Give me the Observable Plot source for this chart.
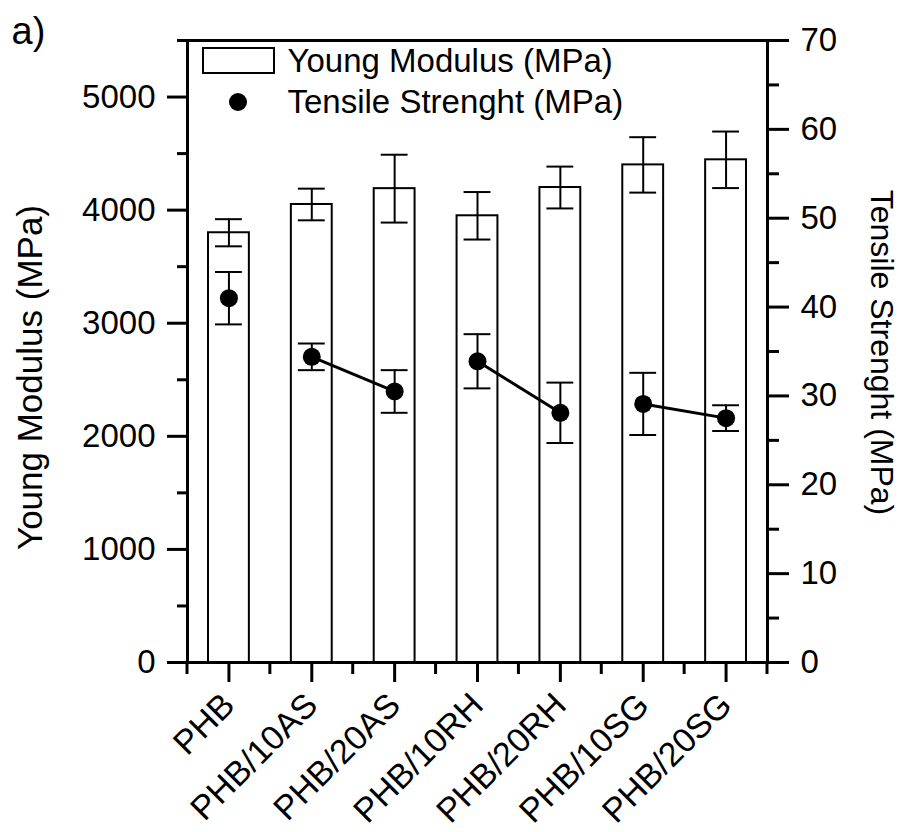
<!DOCTYPE html>
<html>
<head>
<meta charset="utf-8">
<script src="https://cdn.jsdelivr.net/npm/d3@7"></script>
<script src="https://cdn.jsdelivr.net/npm/@observablehq/plot@0.6"></script>
<style>
  html, body { margin: 0; padding: 0; background: white; }
</style>
</head>
<body>
<div id="chart"></div>
<script>
const categories = ["PHB", "PHB/10AS", "PHB/20AS", "PHB/10RH", "PHB/20RH", "PHB/10SG", "PHB/20SG"];
const youngModulus = [3800, 4050, 4190, 3950, 4200, 4400, 4445];
const youngErr = [120, 140, 300, 210, 185, 245, 250];
const tensile = [41.0, 34.4, 30.5, 33.9, 28.1, 29.1, 27.5];
const tensileErr = [2.95, 1.5, 2.4, 3.05, 3.4, 3.5, 1.45];
const groups = ["PHB", "AS", "AS", "RH", "RH", "SG", "SG"];

const leftTicks = [0, 1000, 2000, 3000, 4000, 5000];
const leftMinor = [500, 1500, 2500, 3500, 4500, 5500];
const rightTicks = [0, 10, 20, 30, 40, 50, 60, 70];
const rightMinor = [5, 15, 25, 35, 45, 55, 65];

const leftTitle = "Young Modulus (MPa)";
const rightTitle = "Tensile Strenght (MPa)";
const panelLabel = "a)";
const legendLabels = ["Young Modulus (MPa)", "Tensile Strenght (MPa)"];

const leftMax = 5500, rightMax = 70;
const k = leftMax / rightMax;

const rows = categories.map((c, i) => ({
  cat: c, ym: youngModulus[i], ye: youngErr[i],
  ts: tensile[i] * k, te: tensileErr[i] * k, grp: groups[i]
}));

const FONT = "Liberation Sans, Arial, Helvetica, sans-serif";
const FS = 33;
const LW = 3;

function minorXTicks(index, scales, values, dims) {
  const g = d3.create("svg:g").attr("stroke", "black").attr("stroke-width", LW);
  const bw = scales.x.bandwidth();
  const edges = categories.map(c => scales.x(c)).concat([scales.x(categories[categories.length - 1]) + bw]);
  const y0 = dims.height - dims.marginBottom;
  for (const e of edges) g.append("line").attr("x1", e).attr("x2", e).attr("y1", y0).attr("y2", y0 + 12);
  return g.node();
}

function legendSwatches(index, scales, values, dims) {
  const g = d3.create("svg:g");
  const x0 = dims.marginLeft, y0 = dims.marginTop;
  g.append("rect").attr("x", x0 + 16).attr("y", y0 + 8).attr("width", 71).attr("height", 25)
    .attr("fill", "white").attr("stroke", "black").attr("stroke-width", 2);
  g.append("circle").attr("cx", x0 + 51).attr("cy", y0 + 62).attr("r", 9).attr("fill", "black");
  return g.node();
}

const chart = Plot.plot({
  width: 904,
  height: 832,
  marginLeft: 187,
  marginRight: 137,
  marginTop: 40,
  marginBottom: 170,
  style: { fontFamily: FONT, fontSize: FS + "px", color: "black", background: "white", overflow: "visible" },
  x: { type: "band", domain: categories, paddingInner: 0, paddingOuter: 0, round: false, axis: null },
  y: { domain: [0, leftMax], axis: null },
  marks: [
    Plot.barY(rows, { x: "cat", y: "ym", fill: "white", stroke: "black", strokeWidth: 2, insetLeft: 21, insetRight: 21 }),
    Plot.ruleX(rows, { x: "cat", y1: d => d.ym - d.ye, y2: d => d.ym + d.ye, stroke: "black", strokeWidth: 2 }),
    Plot.tickY(rows, { x: "cat", y: d => d.ym + d.ye, stroke: "black", strokeWidth: 2, insetLeft: 28, insetRight: 28 }),
    Plot.tickY(rows, { x: "cat", y: d => d.ym - d.ye, stroke: "black", strokeWidth: 2, insetLeft: 28, insetRight: 28 }),
    Plot.line(rows, { x: "cat", y: "ts", z: "grp", stroke: "black", strokeWidth: 3 }),
    Plot.ruleX(rows, { x: "cat", y1: d => d.ts - d.te, y2: d => d.ts + d.te, stroke: "black", strokeWidth: 2 }),
    Plot.tickY(rows, { x: "cat", y: d => d.ts + d.te, stroke: "black", strokeWidth: 2, insetLeft: 28, insetRight: 28 }),
    Plot.tickY(rows, { x: "cat", y: d => d.ts - d.te, stroke: "black", strokeWidth: 2, insetLeft: 28, insetRight: 28 }),
    Plot.dot(rows, { x: "cat", y: "ts", r: 9, fill: "black", stroke: null }),
    Plot.frame({ stroke: "black", strokeWidth: LW }),
    // left axis
    Plot.axisY(leftTicks, { anchor: "left", tickSize: 20, tickPadding: 12, strokeWidth: LW, fontSize: FS, label: null, tickFormat: d => String(d) }),
    Plot.axisY(leftMinor, { anchor: "left", tickSize: 10, strokeWidth: LW, label: null, tickFormat: () => "" }),
    // right axis
    Plot.axisY(rightTicks.map(v => v * k), { anchor: "right", tickSize: 21, tickPadding: 12, strokeWidth: LW, fontSize: FS, label: null, tickFormat: d => String(Math.round(d / k)) }),
    Plot.axisY(rightMinor.map(v => v * k), { anchor: "right", tickSize: 11, strokeWidth: LW, label: null, tickFormat: () => "" }),
    // x axis
    Plot.axisX({ anchor: "bottom", tickSize: 20, tickPadding: 17, tickRotate: -45, strokeWidth: LW, fontSize: 34, label: null }),
    minorXTicks,
    // axis titles
    Plot.text([leftTitle], { frameAnchor: "left", dx: -157, dy: 26, rotate: -90, textAnchor: "middle", lineAnchor: "middle", fontSize: 35, fill: "black" }),
    Plot.text([rightTitle], { frameAnchor: "right", dx: 114, dy: 1, rotate: 90, textAnchor: "middle", lineAnchor: "middle", fontSize: 32, fill: "black" }),
    Plot.text([panelLabel], { frameAnchor: "top-left", dx: -176, dy: -9, textAnchor: "start", lineAnchor: "middle", fontSize: 38, fill: "black" }),
    // legend
    legendSwatches,
    Plot.text([legendLabels[0]], { frameAnchor: "top-left", dx: 100, dy: 20.5, textAnchor: "start", lineAnchor: "middle", fontSize: FS, fill: "black" }),
    Plot.text([legendLabels[1]], { frameAnchor: "top-left", dx: 100, dy: 61.5, textAnchor: "start", lineAnchor: "middle", fontSize: FS, fill: "black" })
  ]
});

document.getElementById("chart").appendChild(chart);
</script>
</body>
</html>
